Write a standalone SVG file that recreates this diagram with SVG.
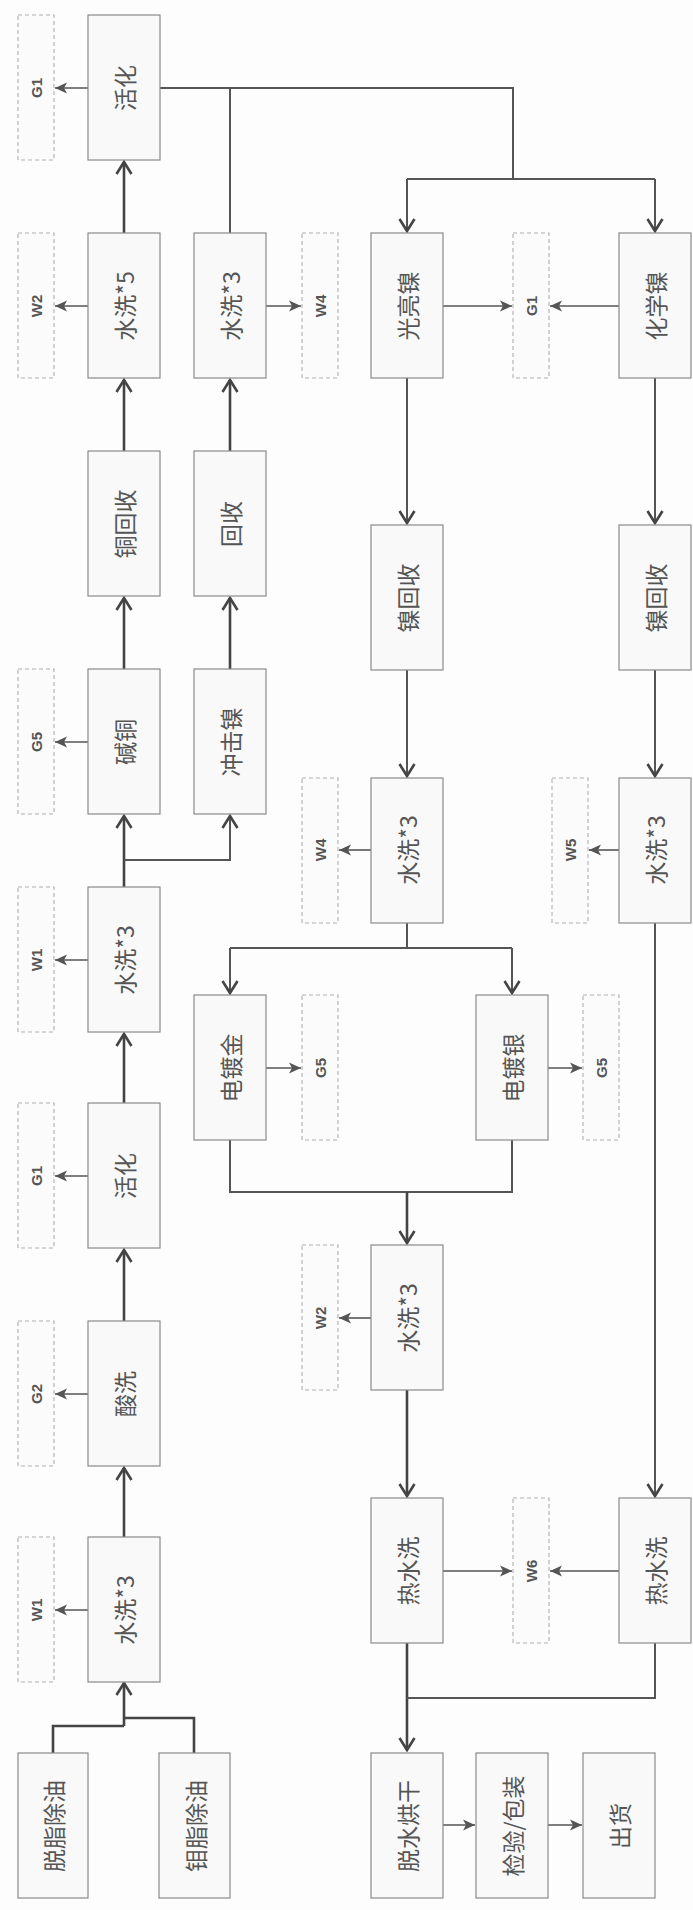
<svg xmlns="http://www.w3.org/2000/svg" width="693" height="1910" viewBox="0 0 693 1910">
<defs>
<style>
.bx{fill:#f9f9f9;stroke:#8a8a8a;stroke-width:1.2}
.db{fill:#fbfbfb;stroke:#b0b0b0;stroke-width:1.1;stroke-dasharray:4 3}
.t{font-family:"Noto Sans CJK SC","Noto Sans",sans-serif;font-size:23px;fill:#555;text-anchor:middle;dominant-baseline:central}
.s{font-family:"Liberation Sans","DejaVu Sans",sans-serif;font-size:15px;font-weight:bold;fill:#555;text-anchor:middle;dominant-baseline:central}
.m{fill:none;stroke:#444;stroke-width:2.6}
.n{fill:none;stroke:#555;stroke-width:2}
.a{fill:none;stroke:#555;stroke-width:1.6}
</style>
<marker id="chev" markerUnits="userSpaceOnUse" markerWidth="20" markerHeight="20" viewBox="0 0 20 20" refX="17" refY="10" orient="auto">
<path d="M5,2.5 L17,10 L5,17.5" fill="none" stroke="#444" stroke-width="2.6"/>
</marker>
<marker id="tri" markerUnits="userSpaceOnUse" markerWidth="14" markerHeight="14" viewBox="0 0 14 14" refX="13" refY="7" orient="auto">
<path d="M1,1.5 L13,7 L1,12.5 L4,7 Z" fill="#555"/>
</marker>
</defs>
<rect width="693" height="1910" fill="#fdfdfd"/>

<g id="connectors">
<!-- column 1 main flow upward -->
<path class="m" d="M53,1753 V1726 H124"/>
<path class="m" d="M194,1753 V1718 H124"/>
<path class="m" d="M124,1726 V1683" marker-end="url(#chev)"/>
<path class="m" d="M124,1537 V1468" marker-end="url(#chev)"/>
<path class="m" d="M124,1321 V1250" marker-end="url(#chev)"/>
<path class="m" d="M124,1103 V1034" marker-end="url(#chev)"/>
<path class="m" d="M124,887 V816" marker-end="url(#chev)"/>
<path class="n" d="M124,860 H230 V816" marker-end="url(#chev)"/>
<path class="m" d="M124,669 V598" marker-end="url(#chev)"/>
<path class="m" d="M124,451 V380" marker-end="url(#chev)"/>
<path class="m" d="M124,233 V162" marker-end="url(#chev)"/>
<!-- column 2 upward -->
<path class="m" d="M230,669 V598" marker-end="url(#chev)"/>
<path class="m" d="M230,451 V380" marker-end="url(#chev)"/>
<path class="n" d="M230,233 V88"/>
<!-- split from 活化 -->
<path class="n" d="M160,88 H513 V179"/>
<path class="n" d="M407,179 H655"/>
<path class="n" d="M407,179 V231" marker-end="url(#chev)"/>
<path class="n" d="M655,179 V231" marker-end="url(#chev)"/>
<!-- column 3 downward -->
<path class="n" d="M407,378 V523" marker-end="url(#chev)"/>
<path class="n" d="M407,670 V776" marker-end="url(#chev)"/>
<path class="n" d="M407,923 V948"/>
<path class="n" d="M230,948 H512"/>
<path class="n" d="M230,948 V993" marker-end="url(#chev)"/>
<path class="n" d="M512,948 V993" marker-end="url(#chev)"/>
<path class="n" d="M230,1140 V1192 H512 V1140"/>
<path class="m" d="M407,1192 V1243" marker-end="url(#chev)"/>
<path class="m" d="M407,1390 V1496" marker-end="url(#chev)"/>
<path class="m" d="M407,1643 V1750" marker-end="url(#chev)"/>
<!-- column 5 downward -->
<path class="n" d="M655,378 V523" marker-end="url(#chev)"/>
<path class="n" d="M655,670 V776" marker-end="url(#chev)"/>
<path class="n" d="M655,923 V1496" marker-end="url(#chev)"/>
<path class="n" d="M655,1643 V1698 H407"/>
<!-- bottom row -->
<path class="a" d="M442,1825 H475" marker-end="url(#tri)"/>
<path class="a" d="M547,1825 H582" marker-end="url(#tri)"/>
<!-- emissions -->
<path class="a" d="M88,88 H55" marker-end="url(#tri)"/>
<path class="a" d="M88,306 H55" marker-end="url(#tri)"/>
<path class="a" d="M88,742 H55" marker-end="url(#tri)"/>
<path class="a" d="M88,960 H55" marker-end="url(#tri)"/>
<path class="a" d="M88,1176 H55" marker-end="url(#tri)"/>
<path class="a" d="M88,1394 H55" marker-end="url(#tri)"/>
<path class="a" d="M88,1610 H55" marker-end="url(#tri)"/>
<path class="a" d="M266,306 H301" marker-end="url(#tri)"/>
<path class="a" d="M443,306 H512" marker-end="url(#tri)"/>
<path class="a" d="M619,306 H550" marker-end="url(#tri)"/>
<path class="a" d="M371,850 H339" marker-end="url(#tri)"/>
<path class="a" d="M619,850 H589" marker-end="url(#tri)"/>
<path class="a" d="M266,1068 H301" marker-end="url(#tri)"/>
<path class="a" d="M548,1068 H582" marker-end="url(#tri)"/>
<path class="a" d="M371,1318 H339" marker-end="url(#tri)"/>
<path class="a" d="M443,1571 H512" marker-end="url(#tri)"/>
<path class="a" d="M619,1571 H550" marker-end="url(#tri)"/>
</g>

<!-- column 1 -->
<g id="n_huohua1"><rect class="bx" x="88" y="15" width="72" height="145"/><text class="t" transform="translate(124,88) rotate(-90)">活化</text></g>
<g id="n_shuixi5"><rect class="bx" x="88" y="233" width="72" height="145"/><text class="t" transform="translate(124,306) rotate(-90)">水洗*5</text></g>
<g id="n_tonghuishou"><rect class="bx" x="88" y="451" width="72" height="145"/><text class="t" transform="translate(124,524) rotate(-90)">铜回收</text></g>
<g id="n_jiantong"><rect class="bx" x="88" y="669" width="72" height="145"/><text class="t" transform="translate(124,742) rotate(-90)">碱铜</text></g>
<g id="n_shuixi3a"><rect class="bx" x="88" y="887" width="72" height="145"/><text class="t" transform="translate(124,960) rotate(-90)">水洗*3</text></g>
<g id="n_huohua2"><rect class="bx" x="88" y="1103" width="72" height="145"/><text class="t" transform="translate(124,1176) rotate(-90)">活化</text></g>
<g id="n_suanxi"><rect class="bx" x="88" y="1321" width="72" height="145"/><text class="t" transform="translate(124,1394) rotate(-90)">酸洗</text></g>
<g id="n_shuixi3b"><rect class="bx" x="88" y="1537" width="72" height="145"/><text class="t" transform="translate(124,1610) rotate(-90)">水洗*3</text></g>
<g id="n_tuozhi"><rect class="bx" x="18" y="1753" width="70" height="145"/><text class="t" transform="translate(53,1826) rotate(-90)">脱脂除油</text></g>
<g id="n_muzhi"><rect class="bx" x="159" y="1753" width="71" height="145"/><text class="t" transform="translate(194.5,1826) rotate(-90)">钼脂除油</text></g>

<!-- left emissions -->
<g id="e_g1a"><rect class="db" x="18" y="15" width="36" height="145"/><text class="s" transform="translate(36,88) rotate(-90)">G1</text></g>
<g id="e_w2a"><rect class="db" x="18" y="233" width="36" height="145"/><text class="s" transform="translate(36,306) rotate(-90)">W2</text></g>
<g id="e_g5a"><rect class="db" x="18" y="669" width="36" height="145"/><text class="s" transform="translate(36,742) rotate(-90)">G5</text></g>
<g id="e_w1a"><rect class="db" x="18" y="887" width="36" height="145"/><text class="s" transform="translate(36,960) rotate(-90)">W1</text></g>
<g id="e_g1b"><rect class="db" x="18" y="1103" width="36" height="145"/><text class="s" transform="translate(36,1176) rotate(-90)">G1</text></g>
<g id="e_g2"><rect class="db" x="18" y="1321" width="36" height="145"/><text class="s" transform="translate(36,1394) rotate(-90)">G2</text></g>
<g id="e_w1b"><rect class="db" x="18" y="1537" width="36" height="145"/><text class="s" transform="translate(36,1610) rotate(-90)">W1</text></g>

<!-- column 2 -->
<g id="n_shuixi3c"><rect class="bx" x="194" y="233" width="72" height="145"/><text class="t" transform="translate(230,306) rotate(-90)">水洗*3</text></g>
<g id="n_huishou"><rect class="bx" x="194" y="451" width="72" height="145"/><text class="t" transform="translate(230,524) rotate(-90)">回收</text></g>
<g id="n_chongjinie"><rect class="bx" x="194" y="669" width="72" height="145"/><text class="t" transform="translate(230,742) rotate(-90)">冲击镍</text></g>
<g id="n_dianduji"><rect class="bx" x="194" y="995" width="72" height="145"/><text class="t" transform="translate(230,1068) rotate(-90)">电镀金</text></g>

<g id="e_w4a"><rect class="db" x="302" y="233" width="36" height="145"/><text class="s" transform="translate(320,306) rotate(-90)">W4</text></g>
<g id="e_w4b"><rect class="db" x="302" y="778" width="36" height="145"/><text class="s" transform="translate(320,850) rotate(-90)">W4</text></g>
<g id="e_g5b"><rect class="db" x="302" y="995" width="36" height="145"/><text class="s" transform="translate(320,1068) rotate(-90)">G5</text></g>
<g id="e_w2b"><rect class="db" x="302" y="1245" width="36" height="145"/><text class="s" transform="translate(320,1318) rotate(-90)">W2</text></g>

<!-- column 3 -->
<g id="n_guangliangnie"><rect class="bx" x="371" y="233" width="72" height="145"/><text class="t" transform="translate(407,306) rotate(-90)">光亮镍</text></g>
<g id="n_niehuishou1"><rect class="bx" x="371" y="525" width="72" height="145"/><text class="t" transform="translate(407,598) rotate(-90)">镍回收</text></g>
<g id="n_shuixi3d"><rect class="bx" x="371" y="778" width="72" height="145"/><text class="t" transform="translate(407,850) rotate(-90)">水洗*3</text></g>
<g id="n_shuixi3e"><rect class="bx" x="371" y="1245" width="72" height="145"/><text class="t" transform="translate(407,1318) rotate(-90)">水洗*3</text></g>
<g id="n_reshuixi1"><rect class="bx" x="371" y="1498" width="72" height="145"/><text class="t" transform="translate(407,1571) rotate(-90)">热水洗</text></g>
<g id="n_tuoshui"><rect class="bx" x="371" y="1753" width="72" height="145"/><text class="t" transform="translate(407,1826) rotate(-90)">脱水烘干</text></g>

<g id="e_g1c"><rect class="db" x="513" y="233" width="36" height="145"/><text class="s" transform="translate(531,306) rotate(-90)">G1</text></g>
<g id="e_w6"><rect class="db" x="513" y="1498" width="36" height="145"/><text class="s" transform="translate(531,1571) rotate(-90)">W6</text></g>

<!-- column 4 -->
<g id="n_dianduyin"><rect class="bx" x="476" y="995" width="72" height="145"/><text class="t" transform="translate(512,1068) rotate(-90)">电镀银</text></g>
<g id="n_jianyan"><rect class="bx" x="476" y="1753" width="72" height="145"/><text class="t" transform="translate(512,1826) rotate(-90)">检验/包装</text></g>
<g id="e_g5c"><rect class="db" x="583" y="995" width="36" height="145"/><text class="s" transform="translate(601,1068) rotate(-90)">G5</text></g>
<g id="e_w5"><rect class="db" x="552" y="778" width="36" height="145"/><text class="s" transform="translate(570,850) rotate(-90)">W5</text></g>
<g id="n_chuhuo"><rect class="bx" x="583" y="1753" width="72" height="145"/><text class="t" transform="translate(619,1826) rotate(-90)">出货</text></g>

<!-- column 5 -->
<g id="n_huaxuenie"><rect class="bx" x="619" y="233" width="72" height="145"/><text class="t" transform="translate(655,306) rotate(-90)">化学镍</text></g>
<g id="n_niehuishou2"><rect class="bx" x="619" y="525" width="72" height="145"/><text class="t" transform="translate(655,598) rotate(-90)">镍回收</text></g>
<g id="n_shuixi3f"><rect class="bx" x="619" y="778" width="72" height="145"/><text class="t" transform="translate(655,850) rotate(-90)">水洗*3</text></g>
<g id="n_reshuixi2"><rect class="bx" x="619" y="1498" width="72" height="145"/><text class="t" transform="translate(655,1571) rotate(-90)">热水洗</text></g>
</svg>
